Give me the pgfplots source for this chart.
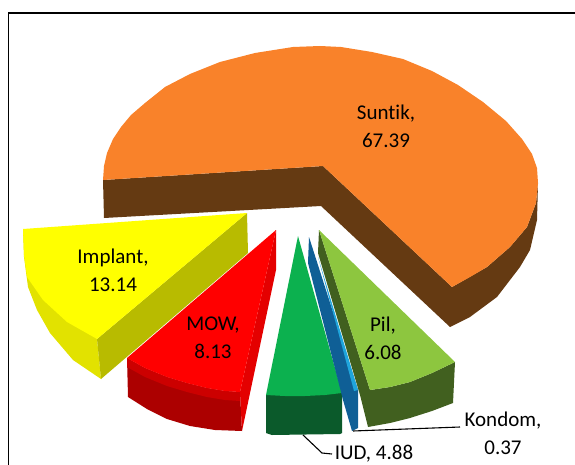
\documentclass[border=0pt]{standalone}
\usepackage{pgfplots}
\pgfplotsset{compat=1.18}
\usepackage{fontspec}
\setmainfont{Carlito}[Ligatures=NoCommon]
\definecolor{org}{HTML}{F9822A}
\definecolor{orgd}{HTML}{653A12}
\definecolor{yel}{HTML}{FFFF00}
\definecolor{yelin}{HTML}{B8BB00}
\definecolor{yelout}{HTML}{E2E200}
\definecolor{redt}{HTML}{FF0000}
\definecolor{redr}{HTML}{E40000}
\definecolor{redo}{HTML}{AC0000}
\definecolor{redb}{HTML}{CC0000}
\definecolor{grn}{HTML}{0CB14F}
\definecolor{grnd}{HTML}{0B5A2B}
\definecolor{blut}{HTML}{1FA5DC}
\definecolor{blud}{HTML}{0F5F96}
\definecolor{pil}{HTML}{8DC63F}
\definecolor{pild}{HTML}{41601F}
\begin{document}
\begin{tikzpicture}
\begin{axis}[
  width=575pt,height=465pt,scale only axis,
  xmin=0,xmax=575,ymin=0,ymax=465,y dir=reverse,
  hide axis,clip=false,
  every axis plot/.append style={draw=none},
]
\path[use as bounding box] (axis cs:0,0) rectangle (axis cs:575,465);
% frame
\addplot[draw=black,line width=1.6pt] coordinates {(8.5,465)(8.5,13)(575,13)};
% Suntik side
\addplot[fill=orgd] coordinates {(103,180)(323,166)(452,287)(487,267)(510,247)(527,227)(536,203)(538,183)(537,220)(530,250)(520,267)(497,297)(470,317)(450,327)(321,206)(104,218)} --cycle;
% Suntik top
\addplot[fill=org] coordinates {(103,180)(104,166)(107,153)(113,139)(121,127)(131,115)(145,103)(165,87)(190,74)(220,62)(255,53)(293,47)(320,46)(341,47)(372,52)(403,59)(432,71)(458,85)(483,102)(506,121)(522,139)(532,154)(537,168)(538,183)(536,203)(527,227)(510,247)(487,267)(470,277)(452,287)(323,166)} --cycle;
% Implant
\addplot[fill=yelout] coordinates {(23,229)(24,257)(28,287)(37,310)(50,333)(73,360)(101,379)(97,339)} --cycle;
\addplot[fill=yelin] coordinates {(247,213)(248,253)(101,379)(97,339)} --cycle;
\addplot[fill=yel] coordinates {(23,229)(247,213)(97,339)(67,322)(43,300)(27,277)(24,255)} --cycle;
% MOW
\addplot[fill=redo] coordinates {(127,358)(128,397)(147,409)(167,419)(190,426)(215,430)(242,431)(240,392)(225,391)(207,388)(187,383)(167,377)(145,368)} --cycle;
\addplot[fill=redb] coordinates {(127,358)(127,367)(145,377)(167,386)(187,392)(207,397)(225,400)(240,401)(240,392)(225,391)(207,388)(187,383)(167,377)(145,368)} --cycle;
\addplot[fill=redr] coordinates {(276,230)(276,270)(242,431)(240,392)} --cycle;
\addplot[fill=redt] coordinates {(276,230)(127,358)(145,368)(167,377)(187,383)(207,388)(225,391)(240,392)} --cycle;
% IUD
\addplot[fill=grnd] coordinates {(266,395)(266,433)(272,435)(340,434)(342,433)(342,393)} --cycle;
\addplot[fill=grn] coordinates {(298,236)(266,395)(285,396)(305,396)(325,395)(342,393)} --cycle;
% Kondom
\addplot[fill=blud] coordinates {(309,237)(358,390)(358,428)(352,431)(343,400)(308,263)} --cycle;
\addplot[fill=blut] coordinates {(318,257)(358,390)(354,391)} --cycle;
% Pil
\addplot[fill=pild] coordinates {(319,230)(318,253)(360,395)(368,427)(390,423)(410,418)(432,411)(453,403)(455,362)(432,373)(410,382)(390,387)(370,390)} --cycle;
\addplot[fill=pil] coordinates {(319,230)(455,362)(432,373)(410,382)(390,387)(370,390)} --cycle;
% leaders
\addplot[draw=black,line width=1.1pt] coordinates {(303,435)(322,453)(332,454)};
\addplot[draw=black,line width=1.1pt] coordinates {(353,431)(460,427)};
\node[align=center,font=\fontsize{21}{28}\selectfont] at (axis cs:386,126) {Suntik,\\67.39};
\node[align=center,font=\fontsize{21}{28}\selectfont] at (axis cs:113,270) {Implant,\\13.14};
\node[align=center,font=\fontsize{21}{28}\selectfont] at (axis cs:213,338) {MOW,\\8.13};
\node[align=center,font=\fontsize{21}{28}\selectfont] at (axis cs:383,338) {Pil,\\6.08};
\node[align=center,font=\fontsize{21}{28}\selectfont] at (axis cs:503,433) {Kondom,\\0.37};
\node[font=\fontsize{21}{28}\selectfont] at (axis cs:374,454) {IUD, 4.88};
\end{axis}
\end{tikzpicture}
\end{document}
